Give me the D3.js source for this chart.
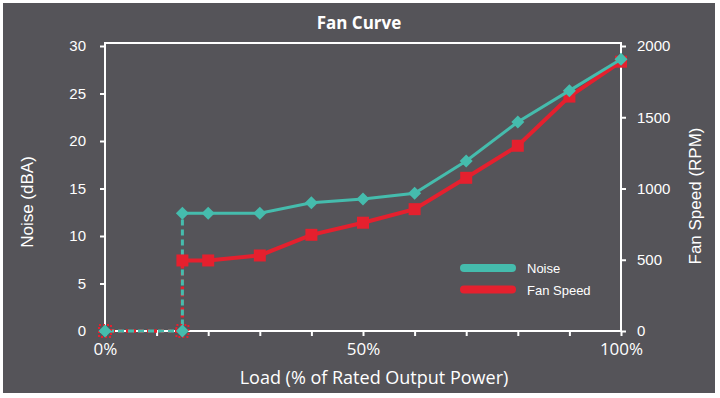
<html>
<head>
<meta charset="utf-8">
<title>Fan Curve</title>
<script src="https://cdn.jsdelivr.net/npm/d3@7"></script>
<style>
  body { margin: 0; background: #fff; }
  svg { display: block; }
</style>
</head>
<body>
<svg id="chart" width="720" height="398"></svg>
<script>
// fan off (passive) section, drawn dashed
var passiveLoad = [0, 15];
var passiveNoise = [0, 0];
var passiveFan = [0, 0];

// fan running
var activeLoad = [15, 20, 30, 40, 50, 60, 70, 80, 90, 100];
var activeNoise = [12.4, 12.4, 12.4, 13.5, 13.9, 14.5, 17.9, 22.0, 25.3, 28.6];
var activeFan = [495, 495, 530, 675, 760, 855, 1075, 1300, 1645, 1890];

var noiseTicks = [0, 5, 10, 15, 20, 25, 30];
var fanTicks = [0, 500, 1000, 1500, 2000];
var loadTicks = [0, 10, 20, 30, 40, 50, 60, 70, 80, 90, 100];
var loadLabels = [0, 50, 100];

var teal = "#45bcad", red = "#e5202e", white = "#ffffff";
var sans = "'Liberation Sans', Arial, sans-serif";
var open = "'Open Sans', sans-serif";

var svg = d3.select("#chart");

// dark panel
svg.append("rect")
    .attr("x", 3).attr("y", 3)
    .attr("width", 712).attr("height", 390)
    .attr("fill", "#555459");

var pLeft = 105, pRight = 621, pTop = 43, pBottom = 331;

var x = d3.scaleLinear().domain([0, 100]).range([pLeft, pRight]);
var yN = d3.scaleLinear().domain([0, 30]).range([pBottom, 46]);
var yF = d3.scaleLinear().domain([0, 2000]).range([pBottom, 46]);

// frame
svg.append("rect")
    .attr("x", pLeft).attr("y", pTop)
    .attr("width", pRight - pLeft).attr("height", pBottom - pTop)
    .attr("fill", "none")
    .attr("stroke", white)
    .attr("stroke-width", 2);

function styleAxis(g, font, size) {
    g.select(".domain").remove();
    g.selectAll(".tick line").attr("stroke", white).attr("stroke-width", 2);
    g.selectAll(".tick text")
        .attr("fill", white)
        .style("font-family", font)
        .style("font-size", size + "px");
}

svg.append("g")
    .attr("transform", "translate(" + pLeft + ",0)")
    .call(d3.axisLeft(yN).tickValues(noiseTicks).tickSize(5).tickPadding(14))
    .call(styleAxis, sans, 15);

svg.append("g")
    .attr("transform", "translate(" + pRight + ",0)")
    .call(d3.axisRight(yF).tickValues(fanTicks).tickSize(5).tickPadding(11).tickFormat(d3.format("d")))
    .call(styleAxis, sans, 15);

svg.append("g")
    .attr("transform", "translate(0," + pBottom + ")")
    .call(d3.axisBottom(x).tickValues(loadTicks).tickSize(5).tickFormat(""))
    .call(styleAxis, open, 16);

svg.append("g")
    .attr("transform", "translate(0," + pBottom + ")")
    .call(d3.axisBottom(x).tickValues(loadLabels).tickSize(0).tickPadding(12)
        .tickFormat(function(d) { return d + "%"; }))
    .call(styleAxis, open, 17);

// titles
svg.append("text")
    .attr("x", 359).attr("y", 29)
    .attr("text-anchor", "middle")
    .attr("fill", white)
    .style("font-family", open)
    .style("font-weight", "bold")
    .style("font-size", "17px")
    .text("Fan Curve");

svg.append("text")
    .attr("x", 374).attr("y", 384)
    .attr("text-anchor", "middle")
    .attr("fill", white)
    .style("font-family", open)
    .style("font-size", "18px")
    .text("Load (% of Rated Output Power)");

svg.append("text")
    .attr("transform", "translate(33,202) rotate(-90)")
    .attr("text-anchor", "middle")
    .attr("fill", white)
    .style("font-family", sans)
    .style("font-size", "17px")
    .text("Noise (dBA)");

svg.append("text")
    .attr("transform", "translate(701,196) rotate(-90)")
    .attr("text-anchor", "middle")
    .attr("fill", white)
    .style("font-family", sans)
    .style("font-size", "17px")
    .text("Fan Speed (RPM)");

// series
var line = d3.line().x(function(d) { return x(d[0]); }).y(function(d) { return d[1]; });

var fanOn = activeLoad.map(function(l, i) { return [l, yF(activeFan[i])]; });
var noiseOn = activeLoad.map(function(l, i) { return [l, yN(activeNoise[i])]; });
var fanOff = passiveLoad.map(function(l, i) { return [l, yF(passiveFan[i])]; }).concat([fanOn[0]]);
var noiseOff = passiveLoad.map(function(l, i) { return [l, yN(passiveNoise[i])]; }).concat([noiseOn[0]]);

// dashed passive part
svg.append("path")
    .attr("d", line(fanOff))
    .attr("fill", "none")
    .attr("stroke", red)
    .attr("stroke-width", 3.5)
    .attr("stroke-dasharray", "3,4");

svg.append("path")
    .attr("d", line(noiseOff))
    .attr("fill", "none")
    .attr("stroke", teal)
    .attr("stroke-width", 3)
    .attr("stroke-dasharray", "6,4")
    .attr("stroke-dashoffset", -3);

// fan speed line + squares
svg.append("path")
    .attr("d", line(fanOn))
    .attr("fill", "none")
    .attr("stroke", red)
    .attr("stroke-width", 4);

svg.selectAll(".fanpt")
    .data(fanOn)
    .enter().append("rect")
    .attr("class", "fanpt")
    .attr("x", function(d) { return x(d[0]) - 6; })
    .attr("y", function(d) { return d[1] - 6; })
    .attr("width", 12).attr("height", 12)
    .attr("fill", red);

svg.selectAll(".fanoff")
    .data(fanOff.slice(0, passiveLoad.length))
    .enter().append("rect")
    .attr("class", "fanoff")
    .attr("x", function(d) { return x(d[0]) - 6; })
    .attr("y", function(d) { return d[1] - 6; })
    .attr("width", 12).attr("height", 12)
    .attr("fill", "none")
    .attr("stroke", red)
    .attr("stroke-width", 2)
    .attr("stroke-dasharray", "2,2");

// noise line + diamonds
svg.append("path")
    .attr("d", line(noiseOn))
    .attr("fill", "none")
    .attr("stroke", teal)
    .attr("stroke-width", 3);

var diamond = "M0,-6.5L6.5,0L0,6.5L-6.5,0Z";
svg.selectAll(".noisept")
    .data(noiseOn.concat(noiseOff.slice(0, passiveLoad.length)))
    .enter().append("path")
    .attr("class", "noisept")
    .attr("d", diamond)
    .attr("transform", function(d) { return "translate(" + x(d[0]) + "," + d[1] + ")"; })
    .attr("fill", teal);

// legend
var legend = [["Noise", teal], ["Fan Speed", red]];
var lg = svg.selectAll(".legend")
    .data(legend)
    .enter().append("g")
    .attr("class", "legend")
    .attr("transform", function(d, i) { return "translate(0," + (268 + i * 21.5) + ")"; });

lg.append("line")
    .attr("x1", 464).attr("x2", 512)
    .attr("stroke", function(d) { return d[1]; })
    .attr("stroke-width", 8)
    .attr("stroke-linecap", "round");

lg.append("text")
    .attr("x", 527).attr("y", 5)
    .attr("fill", white)
    .style("font-family", sans)
    .style("font-size", "13px")
    .text(function(d) { return d[0]; });
</script>
</body>
</html>
